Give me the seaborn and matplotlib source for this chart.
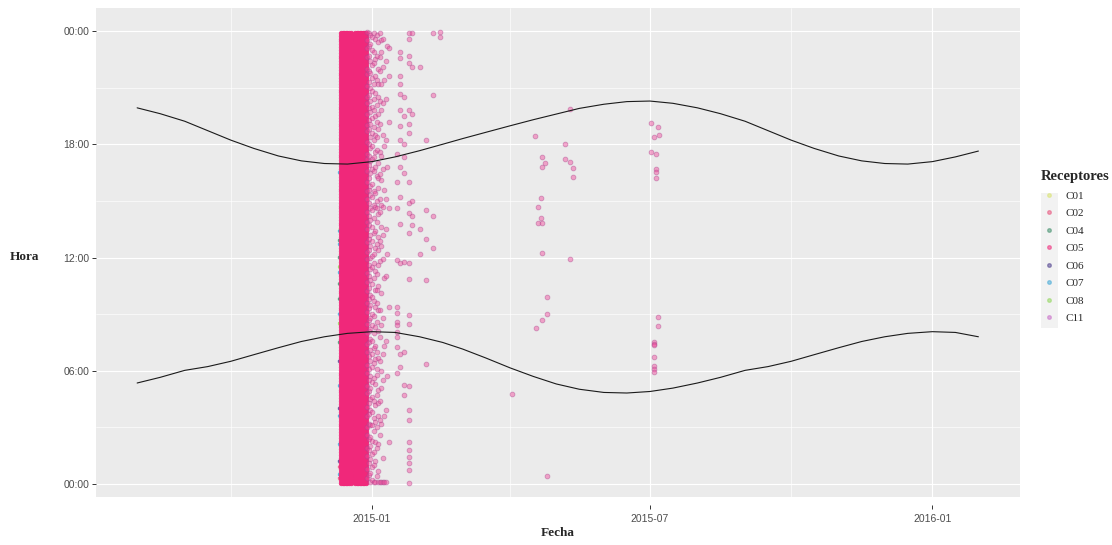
"""
Detecciones por receptor: fecha vs. hora del día, con las curvas de
amanecer y atardecer superpuestas (estilo ggplot).
"""

import numpy as np
import pandas as pd
import seaborn as sns
import matplotlib.pyplot as plt
import matplotlib.dates as mdates
from matplotlib.lines import Line2D
from matplotlib.patches import Rectangle

# ---------------- datos ----------------
receptores = ['C01', 'C02', 'C04', 'C05', 'C06', 'C07', 'C08', 'C11']
colores = ['#D9E36B', '#E8507A', '#3E8E6A', '#F0287A',
           '#4B3C8C', '#3FA7D6', '#8FD65A', '#C86BC8']

# curvas de sol (hora decimal), cada ~15 días
fechas_sol = ['2014-08-01', '2014-08-16', '2014-09-01', '2014-09-16', '2014-10-01',
              '2014-10-16', '2014-11-01', '2014-11-16', '2014-12-01', '2014-12-16',
              '2015-01-01', '2015-01-16', '2015-02-01', '2015-02-16', '2015-03-01',
              '2015-03-16', '2015-04-01', '2015-04-16', '2015-05-01', '2015-05-16',
              '2015-06-01', '2015-06-16', '2015-07-01', '2015-07-16', '2015-08-01',
              '2015-08-16', '2015-09-01', '2015-09-16', '2015-10-01', '2015-10-16',
              '2015-11-01', '2015-11-16', '2015-12-01', '2015-12-16', '2016-01-01',
              '2016-01-16', '2016-01-31']
atardecer = [19.93, 19.62, 19.22, 18.72, 18.22, 17.78, 17.38, 17.12, 16.98, 16.95,
             17.08, 17.33, 17.66, 18.00, 18.30, 18.63, 18.98, 19.30, 19.60, 19.90,
             20.12, 20.26, 20.29, 20.17, 19.93, 19.62, 19.22, 18.72, 18.22, 17.78,
             17.38, 17.12, 16.98, 16.95, 17.08, 17.33, 17.64]
amanecer = [5.35, 5.65, 6.02, 6.22, 6.50, 6.85, 7.22, 7.55, 7.80, 7.98,
            8.07, 8.03, 7.80, 7.50, 7.15, 6.68, 6.15, 5.70, 5.30, 5.02,
            4.85, 4.82, 4.90, 5.08, 5.35, 5.65, 6.02, 6.22, 6.50, 6.85,
            7.22, 7.55, 7.80, 7.98, 8.07, 8.03, 7.80]

# bloque continuo de C05 (detecciones durante todo el día)
dias_denso = ['2014-12-12', '2014-12-13', '2014-12-14', '2014-12-15', '2014-12-16',
              '2014-12-17', '2014-12-18', '2014-12-21', '2014-12-22', '2014-12-23',
              '2014-12-24', '2014-12-25', '2014-12-26', '2014-12-27', '2014-12-28']
minutos_entre_detecciones = 9

# C11: días con detecciones dispersas
dias_c11 = ['2014-12-29', '2014-12-30', '2014-12-31', '2015-01-01', '2015-01-02',
            '2015-01-03', '2015-01-04', '2015-01-05', '2015-01-06', '2015-01-07',
            '2015-01-08', '2015-01-09', '2015-01-10', '2015-01-11', '2015-01-12',
            '2015-01-17', '2015-01-19',
            '2015-01-22', '2015-01-25', '2015-01-27', '2015-02-01', '2015-02-05',
            '2015-02-10', '2015-02-14', '2015-04-02', '2015-04-17', '2015-04-18',
            '2015-04-19', '2015-04-21', '2015-04-22', '2015-04-24', '2015-04-25',
            '2015-05-07', '2015-05-10', '2015-05-12', '2015-07-02', '2015-07-04',
            '2015-07-05', '2015-07-06', '2015-07-07']
horas_c11 = [
    [23.95, 23.5, 23.1, 22.6, 22.0, 21.7, 21.1, 20.5, 20.2, 19.6, 19.0, 18.7, 18.1, 17.5,
     17.2, 16.6, 16.0, 15.5, 15.1, 14.4, 13.9, 13.5, 12.8, 12.3, 11.9, 11.2, 10.7, 10.2,
     9.6, 9.1, 8.5, 8.0, 7.4, 7.0, 6.3, 5.9, 5.2, 4.8, 4.1, 3.6, 3.0, 2.6, 1.9, 1.5, 0.8, 0.3],
    [23.9, 23.2, 22.7, 21.9, 21.3, 20.6, 19.9, 19.3, 18.8, 18.0, 17.4, 16.9, 16.2, 15.6,
     14.9, 14.2, 13.7, 13.0, 12.4, 11.6, 11.0, 10.4, 9.8, 9.3, 8.7, 8.1, 7.5, 6.8, 6.1,
     5.5, 4.9, 4.3, 3.7, 3.2, 2.4, 1.8, 1.1, 0.5],
    [23.8, 23.3, 22.4, 21.8, 21.0, 20.3, 19.7, 19.1, 18.4, 17.8, 17.1, 16.5, 15.8, 15.3,
     14.6, 14.0, 13.2, 12.6, 12.0, 11.4, 10.8, 10.0, 9.5, 8.8, 8.2, 7.7, 7.1, 6.5, 5.7,
     5.1, 4.5, 3.9, 3.1, 2.5, 2.0, 1.3, 0.6, 0.1],
    [23.7, 23.0, 22.2, 21.5, 20.8, 20.0, 19.4, 18.6, 17.9, 17.2, 16.7, 15.9, 15.2, 14.5,
     13.6, 12.9, 12.1, 11.5, 10.6, 9.9, 9.0, 8.4, 7.6, 6.9, 6.2, 5.4, 4.6, 3.8, 3.1, 2.3,
     1.6, 0.9, 0.2],
    [23.9, 22.9, 22.3, 21.2, 20.4, 19.8, 18.9, 18.2, 17.3, 16.6, 15.5, 14.8, 14.1, 13.3,
     12.2, 11.7, 10.9, 9.7, 8.9, 8.0, 7.2, 6.4, 5.6, 4.4, 3.5, 2.8, 1.7, 1.0, 0.1],
    [23.6, 22.5, 21.6, 20.7, 19.5, 18.5, 17.6, 16.8, 15.4, 14.7, 13.4, 12.5, 11.3, 10.3,
     9.4, 8.3, 7.3, 6.6, 5.3, 4.2, 3.3, 2.2, 1.2, 0.1],
    [23.8, 22.7, 21.4, 20.1, 19.2, 17.7, 16.3, 15.0, 13.9, 12.7, 11.1, 9.6, 8.6, 7.0,
     5.8, 4.7, 3.0, 1.9, 0.4, 18.4, 14.6, 10.3, 6.1],
    [23.4, 22.0, 20.5, 18.8, 17.0, 15.7, 14.3, 12.4, 10.5, 8.1, 6.7, 5.0, 3.6, 2.1, 0.7,
     0.1, 21.2, 19.6, 16.2, 13.1, 11.6, 9.2, 4.3],
    [23.9, 21.9, 19.1, 16.4, 14.4, 11.8, 9.2, 7.8, 4.4, 2.6, 0.1, 22.6, 20.3, 17.6, 15.1,
     12.9, 6.5, 3.4],
    [22.9, 21.2, 17.4, 14.8, 12.6, 10.1, 6.0, 3.2, 0.1, 23.5, 19.8, 16.1, 13.6, 8.4, 5.1],
    [23.6, 20.2, 16.7, 13.2, 8.8, 5.5, 1.4, 22.1, 18.5, 14.7, 11.9, 6.9, 0.1],
    [21.4, 17.9, 15.6, 10.9, 7.3, 3.6, 0.1],
    [22.4, 18.2, 15.1, 11.0, 7.6, 3.9, 20.4, 13.5, 0.1],
    [23.2, 16.8, 12.2, 5.7],
    [23.1, 19.2, 14.6, 9.4, 2.2, 21.6],
    [9.4, 9.05, 8.6, 8.4, 8.07, 7.77, 7.27, 5.9, 11.87, 16.0, 14.6, 17.5],
    [22.9, 22.55, 21.6, 21.2, 20.66, 19.8, 18.97, 18.2, 16.8, 15.2, 13.8, 11.69, 6.9, 6.2],
    [20.5, 19.5, 18.0, 17.34, 16.46, 5.24, 4.72, 11.78, 7.0],
    [23.9, 23.6, 22.7, 22.3, 19.8, 19.1, 18.58, 16.0, 14.9, 14.34, 13.3, 11.69, 10.85,
     8.95, 8.5, 5.19, 3.9, 3.4, 2.24, 1.8, 1.41, 1.1, 0.74, 0.04],
    [23.9, 19.6, 22.1, 15.0, 14.2, 13.7],
    [22.1, 13.5, 12.2],
    [18.2, 10.81, 6.36, 13.0, 14.5],
    [23.9, 20.6, 14.2, 12.5],
    [23.95, 23.7],
    [4.77],
    [18.44],
    [8.28],
    [14.68, 13.83],
    [15.15, 14.09],
    [17.31, 16.78, 13.83, 12.24, 8.67],
    [17.0],
    [9.91, 8.99, 0.41],
    [18.03, 17.22],
    [19.85, 17.04, 11.94],
    [16.74, 16.25],
    [19.14, 17.57],
    [18.37, 7.52, 7.44, 7.37, 6.75, 6.27, 6.10, 5.93],
    [17.50, 16.67, 16.53, 16.21],
    [18.93, 8.87, 8.37],
    [18.51],
]

# otros receptores (casi ocultos tras el bloque de C05)
fecha_otros = '2014-12-11'
horas_otros = {
    'C01': [13.45],
    'C02': [0.3, 0.9],
    'C04': [7.5, 9.8, 10.6, 12.0, 12.9],
    'C06': [1.2, 4.0, 6.5],
    'C07': [0.5, 2.1, 3.6, 5.2, 9.0, 11.2, 12.7, 13.4, 16.5],
    'C08': [8.5, 11.5],
}

etiquetas_y = ['00:00', '06:00', '12:00', '18:00', '00:00']
marcas_y = [0, 6, 12, 18, 24]
marcas_x = ['2015-01-01', '2015-07-01', '2016-01-01']
etiquetas_x = ['2015-01', '2015-07', '2016-01']
marcas_x_menores = ['2014-10-01', '2015-04-01', '2015-10-01']

# ---------------- tablas ----------------
paleta = dict(zip(receptores, colores))

sol = pd.DataFrame({'fecha': pd.to_datetime(fechas_sol),
                    'amanecer': amanecer, 'atardecer': atardecer})

horas_dia = np.arange(0.05, 24, minutos_entre_detecciones / 60)
denso = pd.DataFrame([(pd.Timestamp(d), h) for d in dias_denso for h in horas_dia],
                     columns=['fecha', 'hora'])
disperso = pd.DataFrame([(pd.Timestamp(d), h) for d, hs in zip(dias_c11, horas_c11) for h in hs],
                        columns=['fecha', 'hora'])
otros = pd.DataFrame([(r, pd.Timestamp(fecha_otros), h) for r, hs in horas_otros.items() for h in hs],
                     columns=['receptor', 'fecha', 'hora'])

# ---------------- figura ----------------
sns.set_theme(style="darkgrid", rc={"axes.facecolor": "#EBEBEB", "grid.color": "white"})
plt.rcParams['font.family'] = ['Liberation Sans', 'DejaVu Sans']

W, H = 1112, 545
fig = plt.figure(figsize=(W / 100, H / 100), dpi=100)
ax = fig.add_axes([96 / W, 1 - 497 / H, (1020 - 96) / W, (497 - 8) / H])

sns.scatterplot(data=otros, x='fecha', y='hora', hue='receptor', palette=paleta,
                s=11, alpha=0.8, linewidth=0.4, legend=False, ax=ax)
sns.scatterplot(data=denso, x='fecha', y='hora', color=paleta['C05'],
                s=11, linewidth=0.5, edgecolor=paleta['C05'], legend=False, ax=ax)
sns.scatterplot(data=disperso, x='fecha', y='hora', color='#F2479A', alpha=0.45,
                s=12, linewidth=0.6, edgecolor='#A8468C', legend=False, ax=ax)

sns.lineplot(data=sol, x='fecha', y='atardecer', color='#1A1A1A', lw=0.8, ax=ax)
sns.lineplot(data=sol, x='fecha', y='amanecer', color='#1A1A1A', lw=0.8, ax=ax)

# escalas
x0 = mdates.date2num(pd.Timestamp('2015-01-01'))
ax.set_xlim(x0 - 179.8, x0 + 422.1)
ax.set_ylim(-0.69, 25.22)
ax.set_xticks(mdates.date2num(pd.to_datetime(marcas_x)))
ax.set_xticklabels(etiquetas_x)
ax.set_xticks(mdates.date2num(pd.to_datetime(marcas_x_menores)), minor=True)
ax.set_yticks(marcas_y)
ax.set_yticklabels(etiquetas_y)
ax.set_yticks([3, 9, 15, 21], minor=True)

ax.grid(which='major', color='white', lw=0.85)
ax.grid(which='minor', color='white', lw=0.45)
for s in ax.spines.values():
    s.set_visible(False)
ax.spines['bottom'].set_position(('outward', 6))
ax.tick_params(which='major', length=3, width=0.7, color='#333333',
               labelsize=7.5, labelcolor='#4D4D4D', pad=2)
ax.tick_params(which='minor', length=0)
ax.tick_params(axis='x', bottom=True, pad=3)
ax.tick_params(axis='y', left=True)
ax.set_xlabel('')
ax.set_ylabel('')

serif = ['Liberation Serif', 'DejaVu Serif']
fig.text(24 / W, 1 - 257 / H, 'Hora', family=serif, fontweight='bold', fontsize=9.5,
         ha='center', va='center')
fig.text(558 / W, 1 - 533 / H, 'Fecha', family=serif, fontweight='bold', fontsize=9.5,
         ha='center', va='center')

# leyenda
fig.patches.append(Rectangle((1040.5 / W, 1 - 328 / H), 17.5 / W, 135 / H,
                             transform=fig.transFigure, facecolor='#F2F2F2',
                             edgecolor='none', zorder=0))
handles = [Line2D([], [], marker='o', ls='', ms=2.6, mfc=c, mec=c, alpha=0.5)
           for c in colores]
leg = fig.legend(handles, receptores, title='Receptores', loc='upper left',
                 bbox_to_anchor=(1036 / W, 1 - 166 / H), frameon=False,
                 prop={'family': serif, 'size': 8},
                 title_fontproperties={'family': serif, 'weight': 'bold', 'size': 10.5},
                 labelspacing=0.69, handlelength=1.55, handletextpad=0.7,
                 borderaxespad=0)
leg._legend_box.align = 'left'

fig.savefig('out.png', dpi=100)
